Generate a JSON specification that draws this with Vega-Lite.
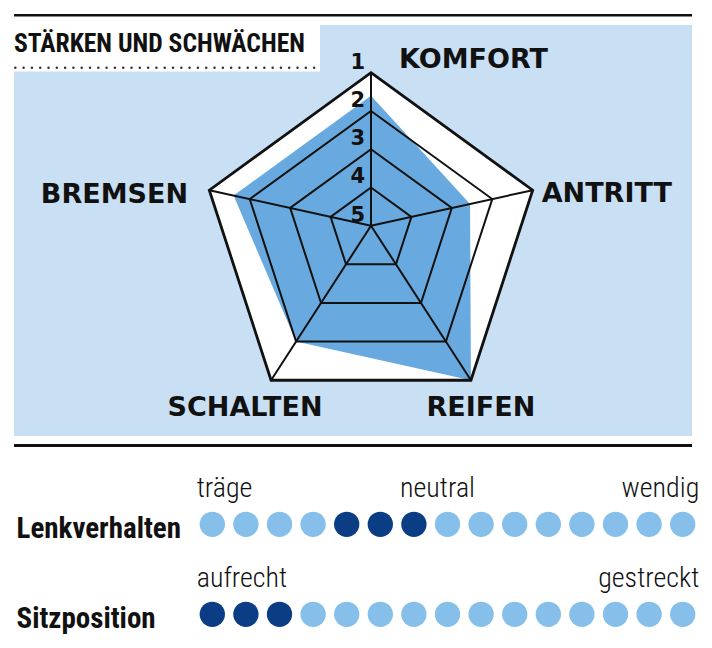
{
  "$schema": "https://vega.github.io/schema/vega-lite/v6.json",
  "width": 712,
  "height": 648,
  "autosize": {"type": "none"},
  "padding": 0,
  "background": "white",
  "config": {"view": {"stroke": null}},
  "datasets": {
    "axes": [
      {"axis": "KOMFORT", "i": 0, "score": 1.6},
      {"axis": "ANTRITT", "i": 1, "score": 2.55},
      {"axis": "REIFEN", "i": 2, "score": 1},
      {"axis": "SCHALTEN", "i": 3, "score": 2},
      {"axis": "BREMSEN", "i": 4, "score": 1.6}
    ],
    "levels": [
      {"level": 1, "i": [0, 1, 2, 3, 4]},
      {"level": 2, "i": [0, 1, 2, 3, 4]},
      {"level": 3, "i": [0, 1, 2, 3, 4]},
      {"level": 4, "i": [0, 1, 2, 3, 4]},
      {"level": 5, "i": [0, 1, 2, 3, 4]}
    ],
    "dots": [
      {"row": "Lenkverhalten", "pos": 1, "on": false},
      {"row": "Lenkverhalten", "pos": 2, "on": false},
      {"row": "Lenkverhalten", "pos": 3, "on": false},
      {"row": "Lenkverhalten", "pos": 4, "on": false},
      {"row": "Lenkverhalten", "pos": 5, "on": true},
      {"row": "Lenkverhalten", "pos": 6, "on": true},
      {"row": "Lenkverhalten", "pos": 7, "on": true},
      {"row": "Lenkverhalten", "pos": 8, "on": false},
      {"row": "Lenkverhalten", "pos": 9, "on": false},
      {"row": "Lenkverhalten", "pos": 10, "on": false},
      {"row": "Lenkverhalten", "pos": 11, "on": false},
      {"row": "Lenkverhalten", "pos": 12, "on": false},
      {"row": "Lenkverhalten", "pos": 13, "on": false},
      {"row": "Lenkverhalten", "pos": 14, "on": false},
      {"row": "Lenkverhalten", "pos": 15, "on": false},
      {"row": "Sitzposition", "pos": 1, "on": true},
      {"row": "Sitzposition", "pos": 2, "on": true},
      {"row": "Sitzposition", "pos": 3, "on": true},
      {"row": "Sitzposition", "pos": 4, "on": false},
      {"row": "Sitzposition", "pos": 5, "on": false},
      {"row": "Sitzposition", "pos": 6, "on": false},
      {"row": "Sitzposition", "pos": 7, "on": false},
      {"row": "Sitzposition", "pos": 8, "on": false},
      {"row": "Sitzposition", "pos": 9, "on": false},
      {"row": "Sitzposition", "pos": 10, "on": false},
      {"row": "Sitzposition", "pos": 11, "on": false},
      {"row": "Sitzposition", "pos": 12, "on": false},
      {"row": "Sitzposition", "pos": 13, "on": false},
      {"row": "Sitzposition", "pos": 14, "on": false},
      {"row": "Sitzposition", "pos": 15, "on": false}
    ],
    "notes": [
      {"row": "Lenkverhalten", "text": "träge", "anchor": "start"},
      {"row": "Lenkverhalten", "text": "neutral", "anchor": "middle"},
      {"row": "Lenkverhalten", "text": "wendig", "anchor": "end"},
      {"row": "Sitzposition", "text": "aufrecht", "anchor": "start"},
      {"row": "Sitzposition", "text": "gestreckt", "anchor": "end"}
    ]
  },
  "layer": [
    {
      "layer": [
        {
          "data": {"values": [{}]},
          "mark": {"type": "rect", "fill": "#c8dff4"},
          "encoding": {
            "x": {"datum": -8.4, "type": "quantitative", "scale": {"domain": [-8.7294, 8.0235], "nice": false, "zero": false}, "axis": null},
            "x2": {"datum": 7.5529},
            "y": {"datum": 4.7224, "type": "quantitative", "scale": {"domain": [-9.9365, 5.3106], "nice": false, "zero": false}, "axis": null},
            "y2": {"datum": -4.9482}
          }
        },
        {
          "data": {"values": [{}]},
          "mark": {"type": "rect", "fill": "#ffffff"},
          "encoding": {
            "x": {"datum": -8.4, "type": "quantitative", "scale": {"domain": [-8.7294, 8.0235], "nice": false, "zero": false}, "axis": null},
            "x2": {"datum": -1.2},
            "y": {"datum": 4.7224, "type": "quantitative", "scale": {"domain": [-9.9365, 5.3106], "nice": false, "zero": false}, "axis": null},
            "y2": {"datum": 3.6282}
          }
        },
        {
          "data": {"values": [{}]},
          "mark": {"type": "rule", "color": "#111111", "strokeWidth": 2.6},
          "encoding": {
            "x": {"datum": -8.4, "type": "quantitative", "scale": {"domain": [-8.7294, 8.0235], "nice": false, "zero": false}, "axis": null},
            "x2": {"datum": 7.5529},
            "y": {"datum": 4.9506, "type": "quantitative", "scale": {"domain": [-9.9365, 5.3106], "nice": false, "zero": false}, "axis": null}
          }
        },
        {
          "data": {"values": [{}]},
          "mark": {"type": "rule", "color": "#111111", "strokeWidth": 3},
          "encoding": {
            "x": {"datum": -8.4, "type": "quantitative", "scale": {"domain": [-8.7294, 8.0235], "nice": false, "zero": false}, "axis": null},
            "x2": {"datum": 7.5529},
            "y": {"datum": -5.1718, "type": "quantitative", "scale": {"domain": [-9.9365, 5.3106], "nice": false, "zero": false}, "axis": null}
          }
        },
        {
          "data": {"values": [{}]},
          "mark": {"type": "rule", "color": "#333333", "strokeWidth": 2.4, "strokeDash": [0.1, 8.2], "strokeCap": "round"},
          "encoding": {
            "x": {"datum": -8.37, "type": "quantitative", "scale": {"domain": [-8.7294, 8.0235], "nice": false, "zero": false}, "axis": null},
            "x2": {"datum": -1.2471},
            "y": {"datum": 3.7176, "type": "quantitative", "scale": {"domain": [-9.9365, 5.3106], "nice": false, "zero": false}, "axis": null}
          }
        },
        {
          "data": {"values": [{"title": "STÄRKEN UND SCHWÄCHEN"}]},
          "mark": {"type": "text", "align": "left", "baseline": "alphabetic", "font": "'Roboto Condensed', 'Liberation Sans Narrow', 'DejaVu Sans Condensed', Roboto, sans-serif", "fontWeight": "bold", "fontSize": 25.6, "color": "#111111"},
          "encoding": {
            "x": {"datum": -8.4, "type": "quantitative", "scale": {"domain": [-8.7294, 8.0235], "nice": false, "zero": false}, "axis": null},
            "y": {"datum": 4.0941, "type": "quantitative", "scale": {"domain": [-9.9365, 5.3106], "nice": false, "zero": false}, "axis": null},
            "text": {"field": "title", "type": "nominal"}
          }
        },
        {
          "data": {"name": "levels"},
          "transform": [
            {"filter": "datum.level == 1"},
            {"flatten": ["i"]},
            {"calculate": "PI/2 - datum.i*2*PI/5", "as": "theta"},
            {"calculate": "(5 - datum.level)*cos(datum.theta)", "as": "x"},
            {"calculate": "(5 - datum.level)*(sin(datum.theta) - 0.1)", "as": "y"}
          ],
          "mark": {"type": "line", "interpolate": "linear-closed", "fill": "#ffffff", "strokeWidth": 0},
          "encoding": {
            "x": {"field": "x", "type": "quantitative", "scale": {"domain": [-8.7294, 8.0235], "nice": false, "zero": false}, "axis": null},
            "y": {"field": "y", "type": "quantitative", "scale": {"domain": [-9.9365, 5.3106], "nice": false, "zero": false}, "axis": null},
            "order": {"field": "i", "type": "quantitative"}
          }
        },
        {
          "data": {"name": "axes"},
          "transform": [
            {"calculate": "PI/2 - datum.i*2*PI/5", "as": "theta"},
            {"calculate": "(5 - datum.score)*cos(datum.theta)", "as": "x"},
            {"calculate": "(5 - datum.score)*(sin(datum.theta) - 0.1)", "as": "y"}
          ],
          "mark": {"type": "line", "interpolate": "linear-closed", "fill": "#68aadf", "strokeWidth": 0},
          "encoding": {
            "x": {"field": "x", "type": "quantitative", "scale": {"domain": [-8.7294, 8.0235], "nice": false, "zero": false}, "axis": null},
            "y": {"field": "y", "type": "quantitative", "scale": {"domain": [-9.9365, 5.3106], "nice": false, "zero": false}, "axis": null},
            "order": {"field": "i", "type": "quantitative"}
          }
        },
        {
          "data": {"name": "levels"},
          "transform": [
            {"filter": "datum.level < 5"},
            {"flatten": ["i"]},
            {"calculate": "PI/2 - datum.i*2*PI/5", "as": "theta"},
            {"calculate": "(5 - datum.level)*cos(datum.theta)", "as": "x"},
            {"calculate": "(5 - datum.level)*(sin(datum.theta) - 0.1)", "as": "y"}
          ],
          "mark": {"type": "line", "interpolate": "linear-closed", "color": "#111111", "strokeJoin": "miter"},
          "encoding": {
            "x": {"field": "x", "type": "quantitative", "scale": {"domain": [-8.7294, 8.0235], "nice": false, "zero": false}, "axis": null},
            "y": {"field": "y", "type": "quantitative", "scale": {"domain": [-9.9365, 5.3106], "nice": false, "zero": false}, "axis": null},
            "detail": {"field": "level", "type": "nominal"},
            "order": {"field": "i", "type": "quantitative"},
            "strokeWidth": {"condition": {"test": "datum.level == 1", "value": 2.8}, "value": 2}
          }
        },
        {
          "data": {"name": "axes"},
          "transform": [
            {"calculate": "PI/2 - datum.i*2*PI/5", "as": "theta"},
            {"calculate": "4*cos(datum.theta)", "as": "ox"},
            {"calculate": "4*(sin(datum.theta) - 0.1)", "as": "oy"}
          ],
          "mark": {"type": "rule", "color": "#111111", "strokeWidth": 2},
          "encoding": {
            "x": {"field": "ox", "type": "quantitative", "scale": {"domain": [-8.7294, 8.0235], "nice": false, "zero": false}, "axis": null},
            "y": {"field": "oy", "type": "quantitative", "scale": {"domain": [-9.9365, 5.3106], "nice": false, "zero": false}, "axis": null},
            "x2": {"datum": 0},
            "y2": {"datum": 0}
          }
        },
        {
          "data": {"name": "levels"},
          "transform": [
            {"calculate": "(5 - datum.level)*0.9", "as": "ny"}
          ],
          "mark": {"type": "text", "align": "right", "baseline": "alphabetic", "dx": -6, "dy": -4, "font": "DejaVu Sans", "fontWeight": "bold", "fontSize": 21, "color": "#111111"},
          "encoding": {
            "x": {"datum": 0, "type": "quantitative", "scale": {"domain": [-8.7294, 8.0235], "nice": false, "zero": false}, "axis": null},
            "y": {"field": "ny", "type": "quantitative", "scale": {"domain": [-9.9365, 5.3106], "nice": false, "zero": false}, "axis": null},
            "text": {"field": "level", "type": "nominal"}
          }
        },
        {
          "data": {"name": "axes"},
          "transform": [{"filter": "datum.axis == 'KOMFORT'"}],
          "mark": {"type": "text", "align": "left", "baseline": "alphabetic", "font": "DejaVu Sans", "fontWeight": "bold", "fontSize": 27, "color": "#111111"},
          "encoding": {
            "x": {"datum": 0.6588, "type": "quantitative", "scale": {"domain": [-8.7294, 8.0235], "nice": false, "zero": false}, "axis": null},
            "y": {"datum": 3.7035, "type": "quantitative", "scale": {"domain": [-9.9365, 5.3106], "nice": false, "zero": false}, "axis": null},
            "text": {"field": "axis", "type": "nominal"}
          }
        },
        {
          "data": {"name": "axes"},
          "transform": [{"filter": "datum.axis == 'ANTRITT'"}],
          "mark": {"type": "text", "align": "left", "baseline": "alphabetic", "font": "DejaVu Sans", "fontWeight": "bold", "fontSize": 27, "color": "#111111"},
          "encoding": {
            "x": {"datum": 4.0165, "type": "quantitative", "scale": {"domain": [-8.7294, 8.0235], "nice": false, "zero": false}, "axis": null},
            "y": {"datum": 0.5576, "type": "quantitative", "scale": {"domain": [-9.9365, 5.3106], "nice": false, "zero": false}, "axis": null},
            "text": {"field": "axis", "type": "nominal"}
          }
        },
        {
          "data": {"name": "axes"},
          "transform": [{"filter": "datum.axis == 'BREMSEN'"}],
          "mark": {"type": "text", "align": "right", "baseline": "alphabetic", "font": "DejaVu Sans", "fontWeight": "bold", "fontSize": 27, "color": "#111111"},
          "encoding": {
            "x": {"datum": -4.3059, "type": "quantitative", "scale": {"domain": [-8.7294, 8.0235], "nice": false, "zero": false}, "axis": null},
            "y": {"datum": 0.5412, "type": "quantitative", "scale": {"domain": [-9.9365, 5.3106], "nice": false, "zero": false}, "axis": null},
            "text": {"field": "axis", "type": "nominal"}
          }
        },
        {
          "data": {"name": "axes"},
          "transform": [{"filter": "datum.axis == 'SCHALTEN'"}],
          "mark": {"type": "text", "align": "center", "baseline": "alphabetic", "font": "DejaVu Sans", "fontWeight": "bold", "fontSize": 27, "color": "#111111"},
          "encoding": {
            "x": {"datum": -2.9647, "type": "quantitative", "scale": {"domain": [-8.7294, 8.0235], "nice": false, "zero": false}, "axis": null},
            "y": {"datum": -4.4776, "type": "quantitative", "scale": {"domain": [-9.9365, 5.3106], "nice": false, "zero": false}, "axis": null},
            "text": {"field": "axis", "type": "nominal"}
          }
        },
        {
          "data": {"name": "axes"},
          "transform": [{"filter": "datum.axis == 'REIFEN'"}],
          "mark": {"type": "text", "align": "center", "baseline": "alphabetic", "font": "DejaVu Sans", "fontWeight": "bold", "fontSize": 27, "color": "#111111"},
          "encoding": {
            "x": {"datum": 2.5847, "type": "quantitative", "scale": {"domain": [-8.7294, 8.0235], "nice": false, "zero": false}, "axis": null},
            "y": {"datum": -4.4776, "type": "quantitative", "scale": {"domain": [-9.9365, 5.3106], "nice": false, "zero": false}, "axis": null},
            "text": {"field": "axis", "type": "nominal"}
          }
        }
      ]
    },
    {
      "layer": [
        {
          "data": {"name": "dots"},
          "mark": {"type": "point", "filled": true, "shape": "circle", "size": 640, "strokeWidth": 0, "opacity": 1},
          "encoding": {
            "x": {"field": "pos", "type": "quantitative", "scale": {"domain": [-5.3185, 15.872], "nice": false, "zero": false}, "axis": null},
            "y": {"field": "row", "type": "nominal", "scale": {"type": "point", "padding": 0, "domain": ["Lenkverhalten", "Sitzposition"], "range": [524.3, 614.3]},
              "axis": {"title": null, "orient": "left", "domain": false, "ticks": false, "tickSize": 0, "grid": false, "labelAlign": "left", "labelPadding": -16, "labelBaseline": "alphabetic", "labelOffset": 13, "labelFont": "'Roboto Condensed', 'Liberation Sans Narrow', 'DejaVu Sans Condensed', Roboto, sans-serif", "labelFontWeight": "bold", "labelFontSize": 29, "labelColor": "#111111", "labelLimit": 400}},
            "color": {"condition": {"test": "datum.on", "value": "#0b3d85"}, "value": "#85bfea"}
          }
        },
        {
          "data": {"name": "notes"},
          "transform": [{"filter": "datum.anchor == 'start'"}],
          "mark": {"type": "text", "align": "left", "baseline": "alphabetic", "dx": -15.6, "dy": -27, "font": "'Roboto Condensed', 'Liberation Sans Narrow', 'DejaVu Sans Condensed', Roboto, sans-serif", "fontWeight": 300, "fontSize": 28, "color": "#111111"},
          "encoding": {
            "x": {"datum": 1, "type": "quantitative", "scale": {"domain": [-5.3185, 15.872], "nice": false, "zero": false}, "axis": null},
            "y": {"field": "row", "type": "nominal", "scale": {"type": "point", "padding": 0, "domain": ["Lenkverhalten", "Sitzposition"], "range": [524.3, 614.3]}},
            "text": {"field": "text", "type": "nominal"}
          }
        },
        {
          "data": {"name": "notes"},
          "transform": [{"filter": "datum.anchor == 'middle'"}],
          "mark": {"type": "text", "align": "center", "baseline": "alphabetic", "dx": -10, "dy": -27, "font": "'Roboto Condensed', 'Liberation Sans Narrow', 'DejaVu Sans Condensed', Roboto, sans-serif", "fontWeight": 300, "fontSize": 28, "color": "#111111"},
          "encoding": {
            "x": {"datum": 8, "type": "quantitative", "scale": {"domain": [-5.3185, 15.872], "nice": false, "zero": false}, "axis": null},
            "y": {"field": "row", "type": "nominal", "scale": {"type": "point", "padding": 0, "domain": ["Lenkverhalten", "Sitzposition"], "range": [524.3, 614.3]}},
            "text": {"field": "text", "type": "nominal"}
          }
        },
        {
          "data": {"name": "notes"},
          "transform": [{"filter": "datum.anchor == 'end'"}],
          "mark": {"type": "text", "align": "right", "baseline": "alphabetic", "dx": 16.6, "dy": -27, "font": "'Roboto Condensed', 'Liberation Sans Narrow', 'DejaVu Sans Condensed', Roboto, sans-serif", "fontWeight": 300, "fontSize": 28, "color": "#111111"},
          "encoding": {
            "x": {"datum": 15, "type": "quantitative", "scale": {"domain": [-5.3185, 15.872], "nice": false, "zero": false}, "axis": null},
            "y": {"field": "row", "type": "nominal", "scale": {"type": "point", "padding": 0, "domain": ["Lenkverhalten", "Sitzposition"], "range": [524.3, 614.3]}},
            "text": {"field": "text", "type": "nominal"}
          }
        }
      ]
    }
  ],
  "resolve": {"scale": {"x": "independent", "y": "independent"}, "axis": {"x": "independent", "y": "independent"}}
}
